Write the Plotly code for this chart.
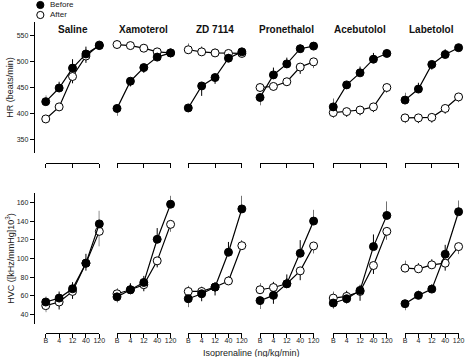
import plotly.graph_objects as go

W, H = 470, 357

drugs = ["Saline", "Xamoterol", "ZD 7114", "Pronethalol", "Acebutolol", "Labetolol"]
doses = ["B", "4", "12", "40", "120"]
series_names = ["Before", "After"]

hr_before = [
    [423, 449, 487, 514, 530],
    [410, 462, 488, 508, 516],
    [411, 453, 469, 506, 518],
    [431, 474, 495, 524, 529],
    [413, 455, 478, 504, 515],
    [426, 447, 494, 513, 526],
]
hr_after = [
    [390, 413, 471, 510, 531],
    [532, 530, 525, 518, 516],
    [522, 518, 516, 515, 515],
    [450, 452, 461, 489, 499],
    [402, 404, 407, 413, 450],
    [392, 392, 393, 410, 432],
]
# signed SEM: positive = bar drawn upward, negative = bar drawn downward
hr_before_err = [
    [12, 12, 17, 14, 6],
    [-14, -10, -10, 8, 6],
    [-8, -19, -12, 8, 6],
    [-15, 14, 12, 8, 6],
    [16, 6, 12, 12, 8],
    [14, 12, -10, 10, 6],
]
hr_after_err = [
    [-8, -8, -13, -13, -6],
    [6, 6, 6, 6, 6],
    [12, 10, 8, 6, 6],
    [-8, -8, -8, -13, -12],
    [-10, -10, -10, -10, -10],
    [-10, -10, -10, -10, -10],
]

hvc_before = [
    [53.5, 57.7, 67.7, 95, 137],
    [59, 66.6, 74.4, 120.5, 158],
    [57, 62.3, 69.5, 106.7, 153],
    [55, 60.6, 73, 105.6, 140],
    [52.4, 57, 65.9, 112.7, 146],
    [51.7, 60.6, 67.3, 104.6, 150],
]
hvc_after = [
    [49.6, 53.5, 64.8, 95, 129],
    [62.3, 66.6, 72, 97.5, 136.5],
    [64.8, 64.8, 69.5, 76, 113.7],
    [66.6, 69, 73, 86.8, 113.4],
    [57.7, 59.5, 64.8, 92.5, 129],
    [89.7, 89, 93.2, 95, 112.7],
]
hvc_before_err = [
    [6, 7, 7, 10, 14],
    [-6, 7, 7, 12, 9],
    [-9, -8, -9, 11, 14],
    [-9, -9, 10, 14, 12],
    [-6, -5, 6, 13, 15],
    [-7, 5, 5, 10, 12],
]
hvc_after_err = [
    [-7, -8, -8, -8, -16],
    [6, 6, -7, -7, -8],
    [6, 5, 5, 5, 6],
    [7, 6, 6, -10, -8],
    [7, 6, -10, -9, -9],
    [8, 6, 6, -8, -8],
]

hr_ticks = [350, 400, 450, 500, 550]
hvc_ticks = [40, 60, 80, 100, 120, 140, 160]

# layout (pixels)
panel_left = [44.5, 117, 189.5, 262.5, 337, 410]
panel_width = 54.5
FONT = "Liberation Sans, Arial, sans-serif"


def px_x(p):
    return p / W


def px_y(p):
    return 1 - p / H


fig = go.Figure()


def add_series(xa, ya, vals, errs, filled, name):
    up = [max(e, 0) for e in errs]
    dn = [max(-e, 0) for e in errs]
    fig.add_trace(go.Scatter(
        x=doses, y=vals, xaxis=xa, yaxis=ya, mode="lines+markers",
        name=name, showlegend=False, cliponaxis=False,
        line=dict(color="black", width=1.2),
        marker=dict(size=8, color="black" if filled else "white",
                    line=dict(color="black", width=1)),
        error_y=dict(type="data", symmetric=False, array=up, arrayminus=dn,
                     width=0, thickness=1, color="black"),
    ))


for i in range(6):
    xt = "x" if i == 0 else f"x{i + 1}"
    xb = f"x{i + 7}"
    add_series(xt, "y", hr_after[i], hr_after_err[i], False, series_names[1])
    add_series(xt, "y", hr_before[i], hr_before_err[i], True, series_names[0])
    add_series(xb, "y2", hvc_after[i], hvc_after_err[i], False, series_names[1])
    add_series(xb, "y2", hvc_before[i], hvc_before_err[i], True, series_names[0])

tickfont = dict(family=FONT, size=7, color="#222")
layout = dict(
    width=W, height=H, margin=dict(l=0, r=0, t=0, b=0),
    paper_bgcolor="white", plot_bgcolor="white",
    font=dict(family=FONT, color="black"),
    showlegend=False,
    annotations=[],
    shapes=[],
)

# key (legend) at top-left: symbol + label
for k, (nm, fill) in enumerate(zip(series_names, ["black", "white"])):
    cy = 5 + 10 * k
    layout["shapes"].append(dict(
        type="circle", xref="paper", yref="paper", xsizemode="pixel", ysizemode="pixel",
        xanchor=px_x(39), yanchor=px_y(cy), x0=-3.6, x1=3.6, y0=-3.6, y1=3.6,
        fillcolor=fill, line=dict(color="black", width=1)))
    layout["annotations"].append(dict(
        text=nm, x=px_x(47), y=px_y(cy), xref="paper", yref="paper", showarrow=False,
        xanchor="left", yanchor="middle", font=dict(family=FONT, size=8, color="#222")))

top_xline = px_y(163)
bot_xline = px_y(333)
for i in range(6):
    dom = [px_x(panel_left[i]), px_x(panel_left[i] + panel_width)]
    common = dict(domain=dom, range=[0, 4], type="category",
                  showline=True, linecolor="black", linewidth=1.3,
                  ticks="outside", ticklen=4, tickwidth=1, tickcolor="black",
                  showgrid=False, zeroline=False, anchor="free", fixedrange=True)
    kt = "xaxis" if i == 0 else f"xaxis{i + 1}"
    layout[kt] = dict(common, position=top_xline, showticklabels=False)
    layout[f"xaxis{i + 7}"] = dict(common, position=bot_xline, showticklabels=True,
                                    tickfont=tickfont, ticklabelstandoff=-4)
    layout["annotations"].append(dict(
        text=f"<b>{drugs[i]}</b>", x=px_x(panel_left[i] + panel_width / 2), y=px_y(29),
        xref="paper", yref="paper", showarrow=False, xanchor="center", yanchor="middle",
        font=dict(family=FONT, size=10, color="#111")))

ycommon = dict(showline=True, linecolor="black", linewidth=1.3, ticks="outside",
               ticklen=4, tickwidth=1, tickcolor="black", showgrid=False,
               zeroline=False, anchor="free", position=px_x(32.5),
               tickfont=tickfont, fixedrange=True)
layout["yaxis"] = dict(ycommon, domain=[px_y(153), px_y(22)], range=[325, 575],
                       tickvals=hr_ticks)
layout["yaxis2"] = dict(ycommon, domain=[px_y(324), px_y(193)], range=[30, 170],
                        tickvals=hvc_ticks)

layout["annotations"] += [
    dict(text="HR (beats/min)", x=px_x(8), y=px_y(87), xref="paper", yref="paper",
         showarrow=False, textangle=-90, xanchor="center", yanchor="middle",
         font=dict(family=FONT, size=9, color="#222")),
    dict(text="HVC ([kHz/mmHg]10<sup>3</sup>)", x=px_x(8), y=px_y(258), xref="paper",
         yref="paper", showarrow=False, textangle=-90, xanchor="center", yanchor="middle",
         font=dict(family=FONT, size=9, color="#222")),
    dict(text="Isoprenaline (ng/kg/min)", x=px_x(254), y=px_y(353), xref="paper",
         yref="paper", showarrow=False, xanchor="center", yanchor="middle",
         font=dict(family=FONT, size=9, color="#222")),
]

fig.update_layout(**layout)
fig.write_html("out.html", config={"displayModeBar": False},
               post_script="document.body.style.margin='0px';document.body.style.padding='0px';")
